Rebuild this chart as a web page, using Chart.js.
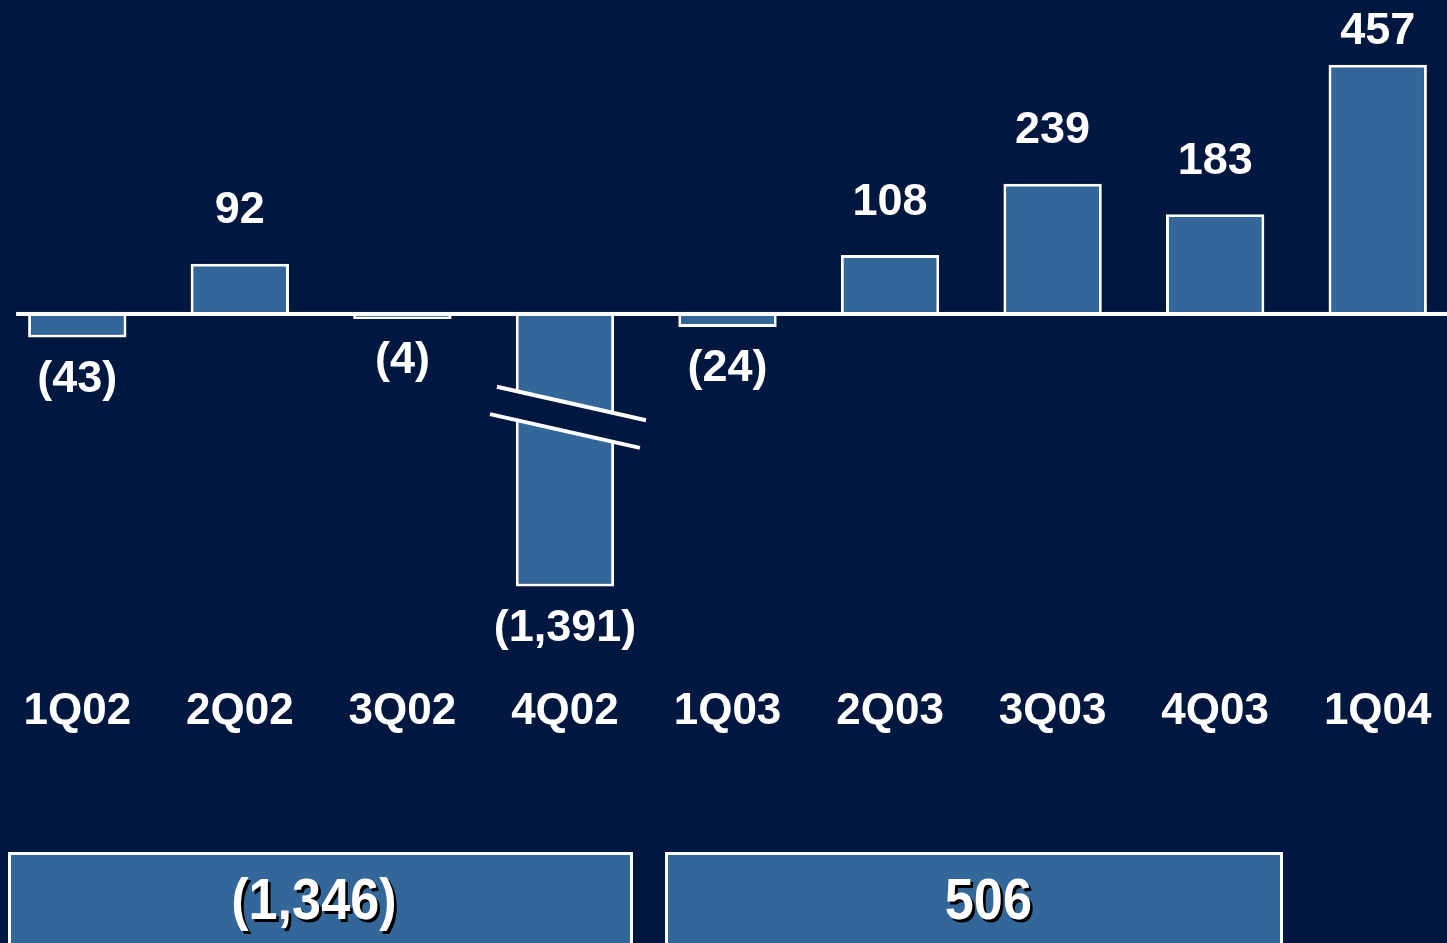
<!DOCTYPE html>
<html>
<head>
<meta charset="utf-8">
<script src="https://cdn.jsdelivr.net/npm/chart.js@4/dist/chart.umd.min.js"></script>
<style>
    html, body { margin: 0; padding: 0; background: #00173f; overflow: hidden; width: 1447px; height: 943px; }
    #wrap { position: absolute; left: -4px; top: 0; }
    .box {
        position: absolute; top: 852px; height: 120px; box-sizing: border-box;
        background: #336699; border: 3px solid #ffffff;
        color: #ffffff; font-family: "Liberation Sans", Arial, sans-serif; font-weight: bold;
        font-size: 58px; text-align: center; line-height: 88px;
        text-shadow: 3px 3px 0 #000000;
    }
    .box span { display: inline-block; transform: scaleX(0.9); }
</style>
</head>
<body>
<div id="wrap"><canvas id="chart" width="1463" height="943"></canvas></div>
<div class="box" style="left:8px; width:625px;"><span style="position:relative; left:-7px;">(1,346)</span></div>
<div class="box" style="left:665px; width:618px;"><span style="position:relative; left:14px;">506</span></div>
<script>
document.addEventListener('DOMContentLoaded', () => {
    // Dados do gráfico
    const quarters = ['1Q02', '2Q02', '3Q02', '4Q02', '1Q03', '2Q03', '3Q03', '4Q03', '1Q04'];
    const values = [-43, 92, -4, -1391, -24, 108, 239, 183, 457];
    const breakAt = -500; // eixo quebrado: barras abaixo disto são cortadas

    const bg = '#00173f';
    const barColor = '#336699';
    const font = '"Liberation Sans", Arial, sans-serif';

    const fmt = v => {
        const s = Math.abs(v).toLocaleString('en-US');
        return v < 0 ? '(' + s + ')' : s;
    };

    const decorations = {
        id: 'decorations',
        afterDatasetsDraw(chart) {
            const ctx = chart.ctx;
            const x = chart.scales.x;
            const y = chart.scales.y;
            const bars = chart.getDatasetMeta(0).data;
            const y0 = y.getPixelForValue(0);

            ctx.save();
            // linha do zero
            ctx.fillStyle = '#ffffff';
            const firstLeft = bars[0].x - bars[0].width / 2;
            ctx.fillRect(firstLeft - 12, y0 - 2, chart.width - firstLeft + 12, 4);

            // marca de quebra nas barras cortadas
            values.forEach((v, i) => {
                if (v >= breakAt) return;
                const cx = bars[i].x;
                const slope = 0.225;
                const l1 = 402, l2 = 431;
                ctx.fillStyle = bg;
                ctx.beginPath();
                ctx.moveTo(cx - 70, l1 - 70 * slope);
                ctx.lineTo(cx + 70, l1 + 70 * slope);
                ctx.lineTo(cx + 70, l2 + 70 * slope);
                ctx.lineTo(cx - 70, l2 - 70 * slope);
                ctx.closePath();
                ctx.fill();
                ctx.strokeStyle = '#ffffff';
                ctx.lineWidth = 4;
                ctx.beginPath();
                ctx.moveTo(cx - 68, l1 - 68 * slope);
                ctx.lineTo(cx + 81, l1 + 81 * slope);
                ctx.moveTo(cx - 75, l2 - 75 * slope);
                ctx.lineTo(cx + 75, l2 + 75 * slope);
                ctx.stroke();
            });

            // rótulos de valores
            ctx.fillStyle = '#ffffff';
            ctx.font = 'bold 45px ' + font;
            ctx.textAlign = 'center';
            ctx.textBaseline = 'middle';
            values.forEach((v, i) => {
                const b = bars[i];
                const ly = v >= 0 ? Math.max(b.y - 53, 32) : b.y + 42;
                ctx.fillText(fmt(v), b.x, ly);
            });

            // categorias
            ctx.font = 'bold 44px ' + font;
            quarters.forEach((q, i) => {
                ctx.fillText(q, x.getPixelForValue(i), 712);
            });
            ctx.restore();
        }
    };

    const ctxChart = document.getElementById('chart').getContext('2d');
    new Chart(ctxChart, {
        type: 'bar',
        data: {
            labels: quarters,
            datasets: [{
                data: values.map(v => Math.max(v, breakAt)),
                backgroundColor: barColor,
                borderColor: '#ffffff',
                borderWidth: 3,
                borderSkipped: 'start',
                minBarLength: 5,
                barPercentage: 0.605,
                categoryPercentage: 1
            }]
        },
        options: {
            responsive: false,
            animation: false,
            layout: { padding: 0 },
            plugins: {
                legend: { display: false },
                tooltip: { enabled: false }
            },
            scales: {
                x: { display: false },
                y: { display: false, min: -1154, max: 576 }
            }
        },
        plugins: [decorations]
    });
});
</script>
</body>
</html>
